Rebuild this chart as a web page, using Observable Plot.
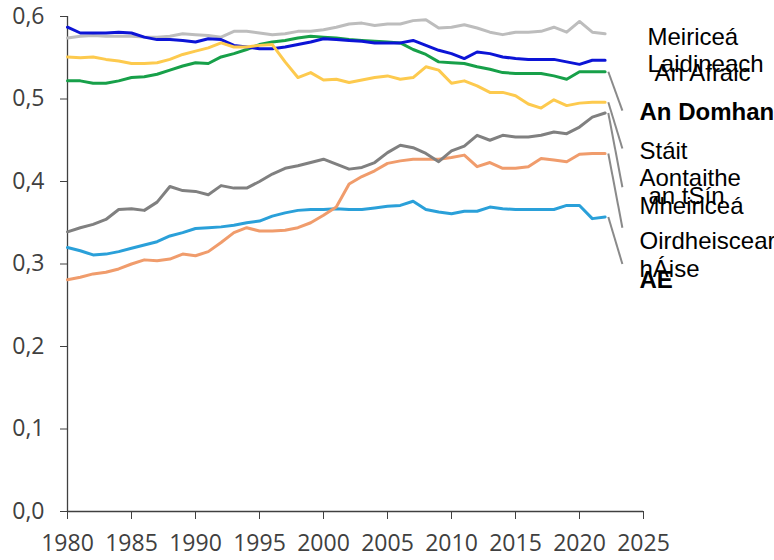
<!DOCTYPE html>
<html>
<head>
<meta charset="utf-8">
<script src="https://cdn.jsdelivr.net/npm/d3@7"></script>
<script src="https://cdn.jsdelivr.net/npm/@observablehq/plot@0.6"></script>
<style>
  html, body { margin: 0; padding: 0; background: #fff; overflow: hidden; }
</style>
</head>
<body>
<div id="chart"></div>
<script>
// ---- data ----
const years = [1980,1981,1982,1983,1984,1985,1986,1987,1988,1989,1990,1991,1992,1993,1994,1995,1996,1997,1998,1999,2000,2001,2002,2003,2004,2005,2006,2007,2008,2009,2010,2011,2012,2013,2014,2015,2016,2017,2018,2019,2020,2021,2022];

const latinAmerica = [0.574,0.576,0.577,0.576,0.576,0.576,0.575,0.575,0.576,0.579,0.578,0.577,0.575,0.582,0.582,0.580,0.578,0.579,0.582,0.582,0.584,0.587,0.591,0.592,0.589,0.591,0.591,0.595,0.596,0.586,0.587,0.590,0.586,0.581,0.578,0.581,0.581,0.582,0.587,0.581,0.594,0.581,0.579];
const africa = [0.587,0.580,0.580,0.580,0.581,0.580,0.575,0.572,0.572,0.571,0.569,0.573,0.572,0.565,0.563,0.561,0.561,0.563,0.566,0.569,0.573,0.572,0.571,0.570,0.568,0.568,0.568,0.571,0.565,0.559,0.555,0.549,0.557,0.555,0.551,0.549,0.548,0.548,0.548,0.545,0.542,0.547,0.547];
const world = [0.522,0.522,0.519,0.519,0.522,0.526,0.527,0.530,0.535,0.540,0.544,0.543,0.551,0.555,0.560,0.566,0.569,0.571,0.574,0.576,0.575,0.574,0.572,0.571,0.570,0.569,0.568,0.560,0.554,0.545,0.544,0.543,0.539,0.536,0.532,0.531,0.531,0.531,0.528,0.524,0.533,0.533,0.533];
const seAsia = [0.551,0.550,0.551,0.548,0.546,0.543,0.543,0.544,0.548,0.554,0.558,0.562,0.568,0.563,0.563,0.565,0.566,0.545,0.526,0.532,0.523,0.524,0.520,0.523,0.526,0.528,0.524,0.526,0.539,0.535,0.519,0.522,0.516,0.508,0.508,0.504,0.494,0.489,0.499,0.492,0.495,0.496,0.496];
const usa = [0.339,0.344,0.348,0.354,0.366,0.367,0.365,0.375,0.394,0.389,0.388,0.384,0.395,0.392,0.392,0.400,0.409,0.416,0.419,0.423,0.427,0.421,0.415,0.417,0.423,0.435,0.444,0.441,0.434,0.424,0.437,0.443,0.456,0.450,0.456,0.454,0.454,0.456,0.460,0.458,0.466,0.478,0.483];
const china = [0.281,0.284,0.288,0.290,0.294,0.300,0.305,0.304,0.306,0.312,0.310,0.315,0.326,0.338,0.344,0.340,0.340,0.341,0.344,0.350,0.359,0.369,0.397,0.406,0.413,0.422,0.425,0.427,0.427,0.427,0.429,0.432,0.418,0.423,0.416,0.416,0.418,0.428,0.426,0.424,0.433,0.434,0.434];
const eu = [0.320,0.316,0.311,0.312,0.315,0.319,0.323,0.327,0.334,0.338,0.343,0.344,0.345,0.347,0.350,0.352,0.358,0.362,0.365,0.366,0.366,0.367,0.366,0.366,0.368,0.370,0.371,0.376,0.366,0.363,0.361,0.364,0.364,0.369,0.367,0.366,0.366,0.366,0.366,0.371,0.371,0.355,0.357];

const seriesNames = ["Meiriceá Laidineach","An Domhan","An Afraic","Oirdheisceart hÁise","AE","an tSín","Stáit Aontaithe Mheiriceá"];
const seriesValues = [latinAmerica, world, africa, seAsia, eu, china, usa];

const xTicks = [1980,1985,1990,1995,2000,2005,2010,2015,2020,2025];
const yTicks = [0,0.1,0.2,0.3,0.4,0.5,0.6];

// label texts (right side), in order of appearance
const labelTexts = ["Meiriceá\nLaidineach","An Afraic","An Domhan","Stáit\nAontaithe\nMheiriceá","an tSín","Oirdheisceart\nhÁise","AE"];
// leader lines: which series they start from, and the value they point to
const leaderSeries = ["An Domhan","Oirdheisceart hÁise","Stáit Aontaithe Mheiriceá","an tSín","AE"];
const leaderTargets = [0.486,0.440,0.393,0.344,0.300];

// ---- layout / styles (not data) ----
const seriesColors = ["#bdbdbd","#17a049","#0c14d6","#fdca4e","#2aa0d9","#f09c6c","#808080"];
const labelLayout = [
  {y: 0.560, dx: 4,  bold: false},
  {y: 0.532, dx: 11, bold: false},
  {y: 0.485, dx: -4, bold: true},
  {y: 0.405, dx: -4, bold: false},
  {y: 0.384, dx: 5,  bold: false},
  {y: 0.312, dx: -4, bold: false},
  {y: 0.281, dx: -4, bold: true}
];

const rows = seriesNames.flatMap((name, i) =>
  years.map((yr, j) => ({series: name, year: yr, value: seriesValues[i][j]})));

const lastYear = years[years.length - 1];
const leaders = leaderSeries.map((s, k) => {
  const vals = seriesValues[seriesNames.indexOf(s)];
  return {x1: lastYear + 0.25, y1: vals[vals.length - 1], x2: lastYear + 1.35, y2: leaderTargets[k]};
});

const labelMarks = labelTexts.map((t, i) => Plot.text([t], {
  x: () => xTicks[xTicks.length - 1],
  y: () => labelLayout[i].y,
  text: d => d,
  dx: labelLayout[i].dx,
  textAnchor: "start",
  lineAnchor: "middle",
  lineHeight: 1.146,
  fontSize: 24,
  fontFamily: "'Liberation Sans', Arial, sans-serif",
  fontWeight: labelLayout[i].bold ? "bold" : "normal",
  fill: "#000"
}));

const fmtY = d => d.toFixed(1).replace(".", ",");

const chart = Plot.plot({
  width: 774,
  height: 560,
  marginLeft: 67,
  marginRight: 131,
  marginTop: 16,
  marginBottom: 49,
  style: {fontFamily: "'Open Sans', sans-serif", fontSize: "23px", color: "#404040", background: "#fff"},
  x: {domain: [1980, 2025], ticks: xTicks, tickFormat: d => String(d), tickSize: 8, tickPadding: 15, label: null},
  y: {domain: [0, 0.6], ticks: yTicks, tickFormat: fmtY, tickSize: 7, tickPadding: 16, label: null},
  color: {domain: seriesNames, range: seriesColors},
  marks: [
    Plot.ruleX([1980], {stroke: "#404040", strokeWidth: 1.3}),
    Plot.ruleY([0], {stroke: "#404040", strokeWidth: 1.3}),
    Plot.lineY(rows, {x: "year", y: "value", z: "series", stroke: "series", strokeWidth: 3, strokeLinejoin: "round"}),
    Plot.link(leaders, {x1: "x1", y1: "y1", x2: "x2", y2: "y2", stroke: "#8a8a8a", strokeWidth: 2}),
    ...labelMarks
  ]
});
document.getElementById("chart").appendChild(chart);
</script>
</body>
</html>
